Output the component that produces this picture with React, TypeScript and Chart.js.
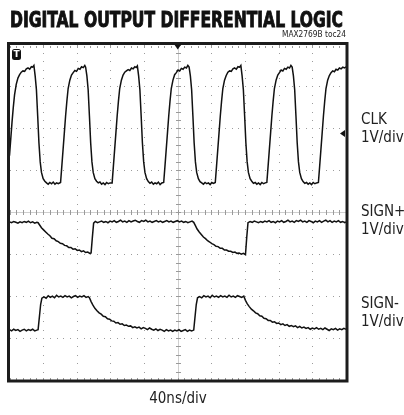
import React, { useEffect, useRef } from "react";
import { Chart, registerables } from "chart.js";

Chart.register(...registerables);

// time axis: 0..400 ns (40 ns/div), vertical: -4..4 div (1 V/div)
const X_MIN = 0;
const X_MAX = 400;
const X_DIV = 40;
const Y_MIN = -4;
const Y_MAX = 4;
const TRIGGER_LEVEL = 1.88;

const TITLE = "DIGITAL OUTPUT DIFFERENTIAL LOGIC";
const SUBTITLE = "MAX2769B toc24";
const X_LABEL = "40ns/div";
const CHANNEL_NAMES = ["CLK", "SIGN+", "SIGN-"];
const CHANNEL_SCALES = ["1V/div", "1V/div", "1V/div"];

// [time ns, level div]
const CLK: [number, number][] = [
  [0, 1.35], [1.5, 1.75], [3, 2.15], [4.5, 2.5], [6, 2.8], [8, 3.05], [10, 3.2], [12, 3.28], [14, 3.34], [16, 3.37], [18, 3.36], [20, 3.42], [22, 3.44], [24, 3.41], [26, 3.47], [27.5, 3.46], [29, 3.5],
  [30.5, 3.25], [32, 2.92], [33.5, 2.3], [35, 1.65], [36.5, 1.2], [38, 0.95], [40, 0.8], [42, 0.74], [44, 0.7], [46, 0.67], [48, 0.71], [50, 0.68], [52, 0.72], [54, 0.67], [56, 0.7], [58, 0.68], [60.7, 0.71],
  [62.2, 1.1], [63.7, 1.5], [65.2, 1.9], [66.7, 2.3], [68.2, 2.65], [69.7, 2.95], [71.7, 3.15], [73.7, 3.27], [75.7, 3.33], [77.7, 3.38], [79.7, 3.36], [81.7, 3.43], [83.7, 3.41], [85.7, 3.47], [87.7, 3.45], [89.5, 3.5], [90.5, 3.46],
  [92, 3.25], [93.5, 2.92], [95, 2.3], [96.5, 1.65], [98, 1.2], [99.5, 0.95], [101.5, 0.8], [103.5, 0.74], [105.5, 0.7], [107.5, 0.72], [109.5, 0.67], [111.5, 0.7], [113.5, 0.66], [115.5, 0.71], [117.5, 0.68], [119.5, 0.7], [122, 0.7],
  [123.5, 1.1], [125, 1.5], [126.5, 1.9], [128, 2.3], [129.5, 2.65], [131, 2.95], [133, 3.15], [135, 3.27], [137, 3.34], [139, 3.37], [141, 3.4], [143, 3.38], [145, 3.44], [147, 3.42], [149, 3.47], [150.5, 3.45], [152, 3.49],
  [153.5, 3.25], [155, 2.92], [156.5, 2.3], [158, 1.65], [159.5, 1.2], [161, 0.95], [163, 0.8], [165, 0.73], [167, 0.69], [169, 0.72], [171, 0.67], [173, 0.7], [175, 0.68], [177, 0.72], [179, 0.66], [181, 0.7], [183.3, 0.71],
  [184.8, 1.1], [186.3, 1.5], [187.8, 1.9], [189.3, 2.3], [190.8, 2.65], [192.3, 2.95], [194.3, 3.15], [196.3, 3.28], [198.3, 3.33], [200.3, 3.39], [202.3, 3.37], [204.3, 3.43], [206.3, 3.41], [208.3, 3.46], [210.3, 3.44], [212, 3.5], [213.5, 3.46],
  [215, 3.25], [216.5, 2.92], [218, 2.3], [219.5, 1.65], [221, 1.2], [222.5, 0.95], [224.5, 0.8], [226.5, 0.73], [228.5, 0.7], [230.5, 0.67], [232.5, 0.71], [234.5, 0.68], [236.5, 0.7], [238.5, 0.66], [240.5, 0.71], [242.5, 0.69], [244.6, 0.71],
  [246.1, 1.1], [247.6, 1.5], [249.1, 1.9], [250.6, 2.3], [252.1, 2.65], [253.6, 2.95], [255.6, 3.15], [257.6, 3.26], [259.6, 3.34], [261.6, 3.37], [263.6, 3.36], [265.6, 3.42], [267.6, 3.44], [269.6, 3.41], [271.6, 3.47], [273.5, 3.46], [275, 3.5],
  [276.5, 3.25], [278, 2.92], [279.5, 2.3], [281, 1.65], [282.5, 1.2], [284, 0.95], [286, 0.8], [288, 0.74], [290, 0.69], [292, 0.71], [294, 0.67], [296, 0.7], [298, 0.66], [300, 0.71], [302, 0.68], [304, 0.7], [305.9, 0.71],
  [307.4, 1.1], [308.9, 1.5], [310.4, 1.9], [311.9, 2.3], [313.4, 2.65], [314.9, 2.95], [316.9, 3.15], [318.9, 3.27], [320.9, 3.33], [322.9, 3.39], [324.9, 3.37], [326.9, 3.43], [328.9, 3.41], [330.9, 3.46], [332.9, 3.44], [334.5, 3.5], [336, 3.46],
  [337.5, 3.25], [339, 2.92], [340.5, 2.3], [342, 1.65], [343.5, 1.2], [345, 0.95], [347, 0.8], [349, 0.73], [351, 0.69], [353, 0.71], [355, 0.67], [357, 0.7], [359, 0.66], [361, 0.71], [363, 0.68], [365, 0.7], [367.2, 0.71],
  [368.7, 1.1], [370.2, 1.5], [371.7, 1.9], [373.2, 2.3], [374.7, 2.65], [376.2, 2.95], [378.2, 3.15], [380.2, 3.26], [382.2, 3.33], [384.2, 3.37], [386.2, 3.35], [388.2, 3.41], [390.2, 3.39], [392.2, 3.44], [394.2, 3.42], [396.2, 3.46], [398.2, 3.44], [400, 3.47],
];

const SIGN_P: [number, number][] = [
  [0, -0.23], [2.5, -0.25], [5, -0.22], [7.5, -0.24], [10, -0.26], [12.5, -0.23], [15, -0.25], [17.5, -0.22], [20, -0.24], [22.5, -0.21], [25, -0.25], [27.5, -0.23], [30, -0.26], [32.5, -0.24], [34, -0.25],
  [36, -0.31], [38, -0.37], [40.5, -0.42], [43, -0.47], [45.5, -0.52], [48, -0.56], [50.5, -0.62], [53, -0.63], [55.5, -0.68], [58, -0.7], [60.5, -0.74], [63, -0.75], [65.5, -0.79], [68, -0.8], [70.5, -0.84], [73, -0.84], [75.5, -0.88], [78, -0.87], [80.5, -0.91], [83, -0.9], [85.5, -0.94], [88, -0.92], [90.5, -0.96], [93, -0.95], [95.5, -0.98], [97, -0.97],
  [98.5, -0.6], [100, -0.26],
  [102, -0.22], [104.5, -0.25], [107, -0.23], [109.5, -0.21], [112, -0.24], [114.5, -0.22], [117, -0.25], [119.5, -0.21], [122, -0.23], [124.5, -0.2], [127, -0.24], [129.5, -0.22], [132, -0.19], [134.5, -0.23], [137, -0.21], [139.5, -0.24], [142, -0.2], [144.5, -0.23], [147, -0.21], [149.5, -0.19], [152, -0.22], [154.5, -0.24], [157, -0.2], [159.5, -0.22], [162, -0.19], [164.5, -0.23], [167, -0.21], [169.5, -0.24], [172, -0.22], [174.5, -0.2], [177, -0.23], [179.5, -0.21], [182, -0.24], [184.5, -0.22], [187, -0.2], [189.5, -0.23], [192, -0.21], [194.5, -0.24], [197, -0.22], [199.5, -0.2], [202, -0.23], [204.5, -0.21], [207, -0.24], [209.5, -0.22], [212, -0.25], [214.5, -0.23], [217, -0.21], [219, -0.24],
  [221, -0.32], [223, -0.4], [225.5, -0.47], [228, -0.53], [230.5, -0.59], [233, -0.63], [235.5, -0.68], [238, -0.71], [240.5, -0.75], [243, -0.77], [245.5, -0.81], [248, -0.82], [250.5, -0.86], [253, -0.86], [255.5, -0.9], [258, -0.9], [260.5, -0.93], [263, -0.93], [265.5, -0.96], [268, -0.95], [270.5, -0.98], [273, -0.97], [275.5, -1.0], [278, -0.98], [280.5, -1.01],
  [282, -0.6], [283.5, -0.25],
  [286, -0.22], [288.5, -0.24], [291, -0.21], [293.5, -0.23], [296, -0.25], [298.5, -0.22], [301, -0.24], [303.5, -0.21], [306, -0.23], [308.5, -0.2], [311, -0.24], [313.5, -0.22], [316, -0.25], [318.5, -0.21], [321, -0.23], [323.5, -0.2], [326, -0.24], [328.5, -0.22], [331, -0.19], [333.5, -0.23], [336, -0.21], [338.5, -0.24], [341, -0.2], [343.5, -0.22], [346, -0.19], [348.5, -0.23], [351, -0.21], [353.5, -0.24], [356, -0.2], [358.5, -0.22], [361, -0.25], [363.5, -0.21], [366, -0.23], [368.5, -0.2], [371, -0.24], [373.5, -0.21], [376, -0.19], [378.5, -0.23], [381, -0.2], [383.5, -0.24], [386, -0.21], [388.5, -0.23], [391, -0.2], [393.5, -0.24], [396, -0.22], [398.5, -0.25], [400, -0.23],
];

const SIGN_N: [number, number][] = [
  [0, -2.8], [2.5, -2.83], [5, -2.79], [7.5, -2.82], [10, -2.8], [12.5, -2.84], [15, -2.81], [17.5, -2.79], [20, -2.83], [22.5, -2.8], [25, -2.82], [27.5, -2.79], [30, -2.83], [32.5, -2.81], [34, -2.8],
  [35.5, -2.5], [37, -2.2], [38.5, -2.05],
  [41, -2.02], [43.5, -2.05], [46, -1.99], [48.5, -2.03], [51, -2.0], [53.5, -2.04], [56, -1.98], [58.5, -2.02], [61, -2.0], [63.5, -2.03], [66, -1.99], [68.5, -2.02], [71, -2.0], [73.5, -2.04], [76, -2.01], [78.5, -1.99], [81, -2.03], [83.5, -2.0], [86, -2.02], [88.5, -1.99], [91, -2.03], [93.5, -2.01], [95, -2.04],
  [97, -2.13], [99, -2.21], [101.5, -2.29], [104, -2.35], [106.5, -2.4], [109, -2.43], [111.5, -2.48], [114, -2.49], [116.5, -2.54], [119, -2.55], [121.5, -2.59], [124, -2.6], [126.5, -2.64], [129, -2.63], [131.5, -2.67], [134, -2.66], [136.5, -2.7], [139, -2.69], [141.5, -2.72], [144, -2.71], [146.5, -2.75], [149, -2.73], [151.5, -2.76], [154, -2.74], [156.5, -2.78], [159, -2.75], [161.5, -2.77], [164, -2.8], [166.5, -2.76], [169, -2.79], [171.5, -2.81], [174, -2.78], [176.5, -2.82], [179, -2.79], [181.5, -2.81], [184, -2.84], [186.5, -2.8], [189, -2.83], [191.5, -2.81], [194, -2.84], [196.5, -2.81], [199, -2.83], [201.5, -2.8], [204, -2.84], [206.5, -2.82], [209, -2.8], [211.5, -2.84], [214, -2.81], [216.5, -2.83], [219, -2.81],
  [220.5, -2.5], [222, -2.2], [223.5, -2.04],
  [226, -2.01], [228.5, -2.04], [231, -1.99], [233.5, -2.02], [236, -2.0], [238.5, -2.04], [241, -1.98], [243.5, -2.02], [246, -2.0], [248.5, -2.03], [251, -1.99], [253.5, -2.02], [256, -2.0], [258.5, -2.03], [261, -1.98], [263.5, -2.02], [266, -2.0], [268.5, -2.03], [271, -1.99], [273.5, -2.01], [276, -2.03], [278.5, -2.0],
  [280.5, -2.1], [282.5, -2.18], [285, -2.25], [287.5, -2.31], [290, -2.35], [292.5, -2.4], [295, -2.42], [297.5, -2.47], [300, -2.48], [302.5, -2.53], [305, -2.54], [307.5, -2.58], [310, -2.58], [312.5, -2.62], [315, -2.61], [317.5, -2.65], [320, -2.64], [322.5, -2.68], [325, -2.66], [327.5, -2.7], [330, -2.68], [332.5, -2.72], [335, -2.7], [337.5, -2.73], [340, -2.71], [342.5, -2.75], [345, -2.72], [347.5, -2.76], [350, -2.74], [352.5, -2.77], [355, -2.75], [357.5, -2.79], [360, -2.76], [362.5, -2.78], [365, -2.75], [367.5, -2.79], [370, -2.77], [372.5, -2.8], [375, -2.76], [377.5, -2.79], [380, -2.82], [382.5, -2.78], [385, -2.8], [387.5, -2.77], [390, -2.81], [392.5, -2.78], [395, -2.8], [397.5, -2.77], [400, -2.79],
];

const W = 404;
const H = 415;

const scopePlugin = {
  id: "scopeScreen",
  beforeDatasetsDraw(chart: any) {
    const { ctx, chartArea: a, scales } = chart;
    const xs = scales.x;
    const ys = scales.y;
    const xMinor = X_DIV / 5;
    const nXMinor = Math.round((X_MAX - X_MIN) / xMinor);
    const nYMinor = Math.round((Y_MAX - Y_MIN) / 0.2);
    const xMid = (X_MIN + X_MAX) / 2;
    ctx.save();
    ctx.fillStyle = "#9c9c9c";
    for (let t = X_MIN + X_DIV; t < X_MAX; t += X_DIV) {
      if (t === xMid) continue;
      const px = Math.round(xs.getPixelForValue(t));
      for (let i = 0; i <= nYMinor; i++) {
        const py = Math.round(ys.getPixelForValue(Y_MIN + i * 0.2));
        ctx.fillRect(px, py, 1, 1);
      }
    }
    for (let v = Y_MIN + 1; v < Y_MAX; v += 1) {
      if (v === 0) continue;
      const py = Math.round(ys.getPixelForValue(v));
      for (let i = 0; i <= nXMinor; i++) {
        const px = Math.round(xs.getPixelForValue(X_MIN + i * xMinor));
        ctx.fillRect(px, py, 1, 1);
      }
    }
    const cx = Math.round(xs.getPixelForValue(xMid));
    const cy = Math.round(ys.getPixelForValue(0));
    ctx.fillStyle = "#cfcfcf";
    ctx.fillRect(a.left, cy, a.right - a.left, 1);
    ctx.fillRect(cx, a.top, 1, a.bottom - a.top);
    ctx.fillStyle = "#9a9a9a";
    for (let i = 0; i <= nXMinor; i++) {
      const px = Math.round(xs.getPixelForValue(X_MIN + i * xMinor));
      ctx.fillRect(px, cy - 2, 1, 5);
      ctx.fillRect(px, Math.round(a.top) + 1, 1, 2);
      ctx.fillRect(px, Math.round(a.bottom) - 2, 1, 2);
    }
    for (let i = 0; i <= nYMinor; i++) {
      const py = Math.round(ys.getPixelForValue(Y_MIN + i * 0.2));
      ctx.fillRect(cx - 2, py, 5, 1);
    }
    ctx.restore();
  },
  afterDatasetsDraw(chart: any) {
    const { ctx, chartArea: a, scales } = chart;
    const xs = scales.x;
    const ys = scales.y;
    ctx.save();
    ctx.strokeStyle = "#1c1c1c";
    ctx.lineWidth = 3;
    ctx.strokeRect(a.left - 1, a.top - 1, a.right - a.left + 2, a.bottom - a.top + 2);
    const cx = xs.getPixelForValue((X_MIN + X_MAX) / 2);
    ctx.fillStyle = "#111";
    ctx.beginPath();
    ctx.moveTo(cx - 3.5, a.top);
    ctx.lineTo(cx + 3.5, a.top);
    ctx.lineTo(cx, a.top + 5);
    ctx.closePath();
    ctx.fill();
    const ty = ys.getPixelForValue(TRIGGER_LEVEL);
    ctx.beginPath();
    ctx.moveTo(a.right - 1, ty - 3.5);
    ctx.lineTo(a.right - 1, ty + 3.5);
    ctx.lineTo(a.right - 6, ty);
    ctx.closePath();
    ctx.fill();
    const bx = a.left + 2.5;
    const by = a.top + 4.5;
    ctx.beginPath();
    ctx.roundRect(bx, by, 9, 11, 2.5);
    ctx.fill();
    ctx.fillStyle = "#fff";
    ctx.font = "bold 9px 'DejaVu Sans'";
    ctx.textAlign = "center";
    ctx.textBaseline = "middle";
    ctx.fillText("T", bx + 4.5, by + 6);
    ctx.restore();
  },
};

export default function App() {
  const canvasRef = useRef<HTMLCanvasElement | null>(null);

  useEffect(() => {
    const canvas = canvasRef.current;
    if (!canvas) return;
    const mk = (pts: [number, number][]) => pts.map(([x, y]) => ({ x, y }));
    const traceStyle = {
      borderColor: "#111111",
      borderWidth: 1.5,
      pointRadius: 0,
      tension: 0,
      fill: false,
    };
    const chart = new Chart(canvas, {
      type: "line",
      data: {
        datasets: [
          { label: CHANNEL_NAMES[0], data: mk(CLK), ...traceStyle },
          { label: CHANNEL_NAMES[1], data: mk(SIGN_P), ...traceStyle },
          { label: CHANNEL_NAMES[2], data: mk(SIGN_N), ...traceStyle },
        ],
      },
      options: {
        responsive: false,
        animation: false,
        devicePixelRatio: 1,
        events: [],
        layout: { padding: { left: 9.5, top: 44.5, right: 58, bottom: 35 } },
        plugins: {
          legend: { display: false },
          tooltip: { enabled: false },
          title: { display: false },
        },
        scales: {
          x: { type: "linear", min: X_MIN, max: X_MAX, display: false },
          y: { type: "linear", min: Y_MIN, max: Y_MAX, display: false },
        },
      },
      plugins: [scopePlugin],
    } as any);
    return () => chart.destroy();
  }, []);

  const labelFont = "'DejaVu Sans Condensed', 'Liberation Sans Narrow', sans-serif";
  const labelRows = [
    { name: 124, scale: 142 },
    { name: 216, scale: 234 },
    { name: 308, scale: 326 },
  ];

  return (
    <div style={{ position: "absolute", left: 0, top: 0, width: W, height: H, background: "#fff" }}>
      <canvas ref={canvasRef} width={W} height={H} style={{ display: "block", width: W, height: H }} />
      <svg
        width={W}
        height={H}
        style={{ position: "absolute", left: 0, top: 0, pointerEvents: "none" }}
      >
        <text
          x={10}
          y={26.5}
          textLength={333}
          lengthAdjust="spacingAndGlyphs"
          fontFamily={labelFont}
          fontWeight="bold"
          fontSize={22}
          fill="#111"
          stroke="#111"
          strokeWidth={0.9}
        >
          {TITLE}
        </text>
        <text
          x={346}
          y={37}
          textAnchor="end"
          textLength={64}
          lengthAdjust="spacingAndGlyphs"
          fontFamily={labelFont}
          fontSize={9.5}
          fill="#222"
        >
          {SUBTITLE}
        </text>
        {labelRows.map((r, i) => (
          <g key={i}>
            <text x={361} y={r.name} fontFamily={labelFont} fontSize={15} fill="#222">
              {CHANNEL_NAMES[i]}
            </text>
            <text x={361} y={r.scale} fontFamily={labelFont} fontSize={15} fill="#222">
              {CHANNEL_SCALES[i]}
            </text>
          </g>
        ))}
        <text x={178} y={403} textAnchor="middle" fontFamily={labelFont} fontSize={15} fill="#222">
          {X_LABEL}
        </text>
      </svg>
    </div>
  );
}
